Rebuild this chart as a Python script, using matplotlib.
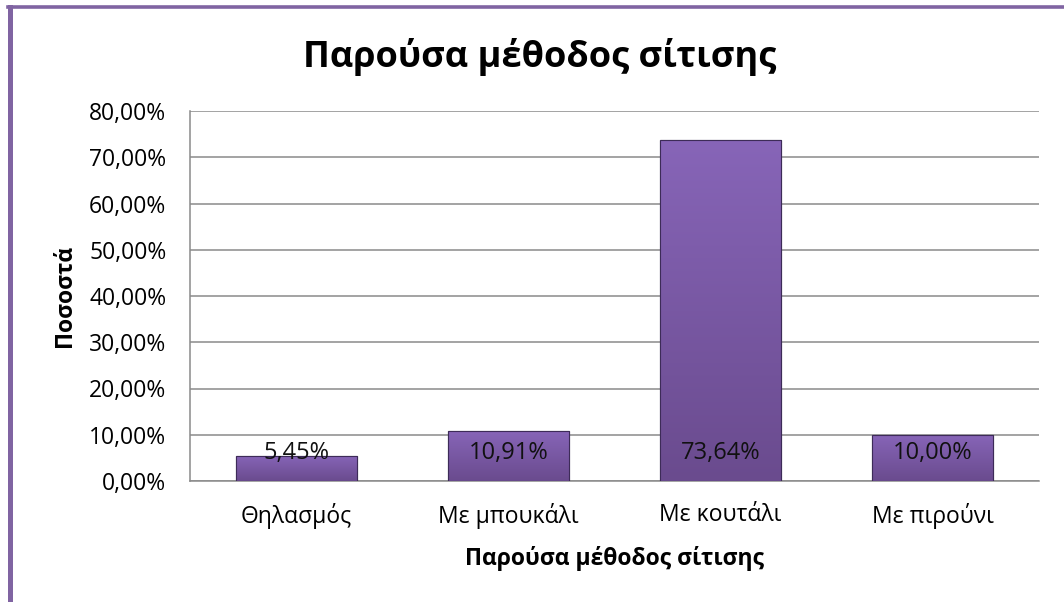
import matplotlib.pyplot as plt
import numpy as np
from matplotlib.colors import LinearSegmentedColormap
from matplotlib.lines import Line2D

categories = ['Θηλασμός', 'Με μπουκάλι', 'Με κουτάλι', 'Με πιρούνι']
values = [5.45, 10.91, 73.64, 10.00]
value_labels = ['5,45%', '10,91%', '73,64%', '10,00%']
yticks = [0, 10, 20, 30, 40, 50, 60, 70, 80]
ytick_labels = ['0,00%', '10,00%', '20,00%', '30,00%', '40,00%',
                '50,00%', '60,00%', '70,00%', '80,00%']

title = 'Παρούσα μέθοδος σίτισης'
xlabel = 'Παρούσα μέθοδος σίτισης'
ylabel = 'Ποσοστά'

plt.rcParams['font.family'] = ['Open Sans', 'DejaVu Sans']

fig = plt.figure(figsize=(10.64, 6.02), dpi=100)
ax = fig.add_axes([190 / 1064, 1 - 481 / 602, 849 / 1064, 370 / 602])

x = np.arange(len(categories))
bars = ax.bar(x, values, width=0.57, color='#7858a6', edgecolor='#3d2b58',
              linewidth=0.8, zorder=3)

# vertical purple gradient on each bar
cmap = LinearSegmentedColormap.from_list('purp', ['#6a4b8e', '#8765b8'])
grad = np.linspace(0, 1, 256).reshape(-1, 1)
for b in bars:
    x0, y0 = b.get_x(), b.get_y()
    im = ax.imshow(grad, cmap=cmap, origin='lower', aspect='auto',
                   extent=[x0, x0 + b.get_width(), y0, y0 + b.get_height()],
                   zorder=3.5)
    im.set_clip_path(b)
    ax.bar(b.get_x() + b.get_width() / 2, b.get_height(), width=b.get_width(),
           fill=False, edgecolor='#3d2b58', linewidth=0.8, zorder=4)

for xi, lab in zip(x, value_labels):
    ax.annotate(lab, xy=(xi, 0), xytext=(0, 28), textcoords='offset pixels',
                ha='center', va='center', fontsize=17, color='#111111', zorder=5)

ax.set_xlim(-0.5, len(categories) - 0.5)
ax.set_ylim(0, 80)
ax.set_yticks(yticks)
ax.set_yticklabels(ytick_labels, fontsize=16.5)
ax.set_xticks(x)
ax.set_xticklabels(categories, fontsize=16.5)
ax.tick_params(axis='y', length=0, pad=17)
ax.tick_params(axis='x', length=0, pad=16)
ax.yaxis.grid(True, color='#8a8a8a', linewidth=1.1, zorder=0)
ax.set_axisbelow(True)
for s in ['top', 'right']:
    ax.spines[s].set_visible(False)
ax.spines['left'].set_color('#8a8a8a')
ax.spines['bottom'].set_color('#8a8a8a')
ax.spines['left'].set_linewidth(1.1)
ax.spines['bottom'].set_linewidth(1.1)

ax.set_xlabel(xlabel, fontsize=16.5, fontweight='bold', labelpad=12)
ax.set_ylabel(ylabel, fontsize=16.5, fontweight='bold', labelpad=9)
fig.text(540 / 1064, 1 - 57 / 602, title, ha='center', va='center',
         fontsize=26, fontweight='bold')

# purple frame (left and top edges visible)
fig.add_artist(Line2D([9.5 / 1064, 9.5 / 1064], [0, 1 - 6.5 / 602],
                      color='#8064a2', linewidth=3.6, transform=fig.transFigure))
fig.add_artist(Line2D([8 / 1064, 1], [1 - 6.5 / 602, 1 - 6.5 / 602],
                      color='#8064a2', linewidth=2.6, transform=fig.transFigure))

fig.savefig('out.png', dpi=100)
